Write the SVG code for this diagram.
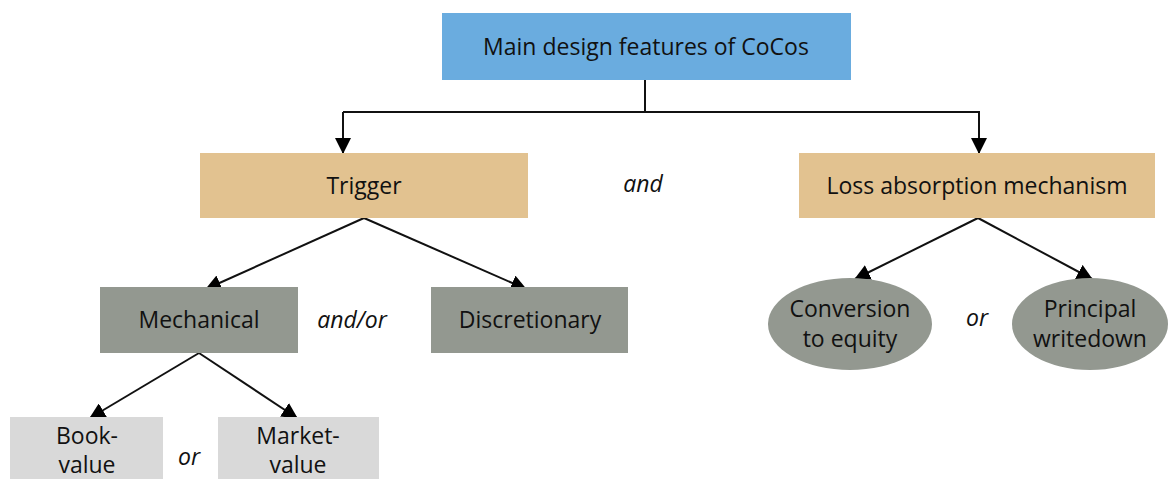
<svg xmlns="http://www.w3.org/2000/svg" width="1168" height="479" viewBox="0 0 1168 479">
<defs>
<marker id="ah" markerUnits="userSpaceOnUse" markerWidth="16" markerHeight="16" viewBox="0 0 16 16" refX="15" refY="8" orient="auto">
<path d="M0,0 L16,8 L0,16 Z" fill="#000"/>
</marker>
<style>
text{font-family:"Open Sans","Noto Sans","DejaVu Sans",sans-serif;font-size:23px;fill:#111;text-anchor:middle}
.it{font-style:italic}
.blue{fill:#6aacdf}
.tan{fill:#e2c290}
.gray{fill:#939890}
.light{fill:#d9d9d9}
.conn{stroke:#111;stroke-width:2;fill:none}
.arr{marker-end:url(#ah)}
</style>
</defs>
<rect width="1168" height="479" fill="#fff"/>
<g id="connectors">
<path class="conn" d="M645,80 V112 M343,112 H980"/>
<path class="conn arr" d="M343,112 V153"/>
<path class="conn arr" d="M979,112 V153"/>
<path class="conn arr" d="M364,218 L206,289"/>
<path class="conn arr" d="M364,218 L526,289"/>
<path class="conn arr" d="M978,218 L855,279"/>
<path class="conn arr" d="M978,218 L1092,279"/>
<path class="conn arr" d="M199,353 L90,418"/>
<path class="conn arr" d="M199,353 L297,418"/>
</g>
<g id="main">
<rect class="blue" x="442" y="13" width="409" height="67"/>
<text x="646" y="55">Main design features of CoCos</text>
</g>
<g id="trigger">
<rect class="tan" x="200" y="153" width="328" height="65"/>
<text x="364" y="194">Trigger</text>
</g>
<g id="loss">
<rect class="tan" x="799" y="153" width="356" height="65"/>
<text x="977" y="194">Loss absorption mechanism</text>
</g>
<g id="mechanical">
<rect class="gray" x="100" y="287" width="198" height="66"/>
<text x="199" y="328">Mechanical</text>
</g>
<g id="discretionary">
<rect class="gray" x="431" y="287" width="197" height="66"/>
<text x="530" y="328">Discretionary</text>
</g>
<g id="conversion">
<ellipse class="gray" cx="850" cy="324" rx="82" ry="46"/>
<text x="850" y="317">Conversion</text>
<text x="850" y="347">to equity</text>
</g>
<g id="principal">
<ellipse class="gray" cx="1090" cy="324" rx="78" ry="46"/>
<text x="1090" y="317">Principal</text>
<text x="1090" y="347">writedown</text>
</g>
<g id="book">
<rect class="light" x="10" y="417" width="153" height="62"/>
<text x="87" y="444">Book-</text>
<text x="87" y="473">value</text>
</g>
<g id="market">
<rect class="light" x="218" y="417" width="161" height="62"/>
<text x="298" y="444">Market-</text>
<text x="298" y="473">value</text>
</g>
<g id="labels">
<text class="it" x="643" y="192">and</text>
<text class="it" x="352" y="328">and/or</text>
<text class="it" x="977" y="326">or</text>
<text class="it" x="189" y="465">or</text>
</g>
</svg>
